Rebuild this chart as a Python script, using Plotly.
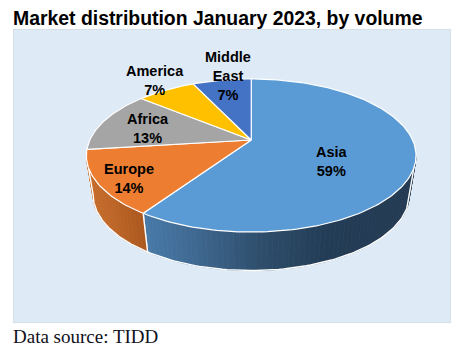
import math
import plotly.graph_objects as go

# --- data (labels show these rounded to whole percent) ---
categories = ["Asia", "Europe", "Africa", "America", "Middle East"]
values = [59.4, 13.6, 13, 7, 7]
label_lines = ["Asia", "Europe", "Africa", "America", "Middle<br>East"]
title_text = "Market distribution January 2023, by volume"
source_text = "Data source: TIDD"

# --- styles ---
top_colors = ["#5B9BD5", "#ED7D31", "#A5A5A5", "#FFC000", "#4472C4"]
panel_color = "#DEEAF6"
label_xy = [(332, 161), (129, 178), (148, 128), (155, 80.5), (228, 76)]

# --- geometry: perspective view of a disc, in page pixels ---
W, H = 468, 352
PANEL = (13, 451.5, 29, 323)
K = 0.2025


def project(theta, apex_x, apex_y, ax, by):
    X, Y = math.sin(theta), -math.cos(theta)
    den = 1 - K * Y
    return apex_x + ax * X / den, apex_y + by * Y / den


def top(theta):
    return project(theta, 251.5, 140, 161.6, 73.4)


def bottom(theta):
    return project(theta, 251.5, 179.5, 155, 72.6)


def mix(c1, c2, t):
    return "rgb(%d,%d,%d)" % tuple(round(a + (b - a) * t) for a, b in zip(c1, c2))


def wall_colour(stops, t):
    for (t0, c0), (t1, c1) in zip(stops, stops[1:]):
        if t <= t1:
            return mix(c0, c1, (t - t0) / (t1 - t0))
    return mix(stops[-1][1], stops[-1][1], 0)


total = sum(values)
cum = [0]
for v in values:
    cum.append(cum[-1] + v)
angle = [c / total * 2 * math.pi for c in cum]

fig = go.Figure()


def add_poly(pts, fill, line, width):
    fig.add_trace(go.Scatter(
        x=[p[0] for p in pts], y=[p[1] for p in pts], mode="lines", fill="toself",
        fillcolor=fill, line=dict(color=line, width=width),
        hoverinfo="skip", showlegend=False))


def add_wall(a0, a1, stops, n):
    for i in range(n):
        s0 = a0 + (a1 - a0) * i / n
        s1 = a0 + (a1 - a0) * (i + 1) / n
        xm = 0.5 * (top(s0)[0] + top(s1)[0])
        col = wall_colour(stops, xm)
        add_poly([top(s0), top(s1), bottom(s1), bottom(s0), top(s0)], col, col, 0.8)
    steps = [a0 + (a1 - a0) * i / 80 for i in range(81)]
    outline = [top(steps[0])] + [bottom(s) for s in steps] + [top(steps[-1])]
    fig.add_trace(go.Scatter(
        x=[p[0] for p in outline], y=[p[1] for p in outline], mode="lines",
        line=dict(color="white", width=1.4), hoverinfo="skip", showlegend=False))


# Side walls: Asia from its rightmost rim point to its end, Europe from there to the left rim
asia_stops = [(100, (72, 122, 168)), (143, (72, 122, 168)), (200, (62, 102, 142)),
              (260, (46, 78, 108)), (330, (35, 60, 85)), (420, (35, 58, 82))]
europe_stops = [(80, (200, 110, 45)), (110, (190, 102, 40)), (145, (170, 86, 30))]
rightmost = math.pi / 2 + math.asin(K)
leftmost = 3 * math.pi / 2 - math.asin(K)
add_wall(rightmost, angle[1], asia_stops, 70)
add_wall(angle[1], leftmost, europe_stops, 24)

# Top faces
for i in range(len(values)):
    n = max(12, int(values[i] * 3))
    rim = [top(angle[i] + (angle[i + 1] - angle[i]) * j / n) for j in range(n + 1)]
    apex = (251.5, 140)
    add_poly([apex] + rim + [apex], top_colors[i], "white", 1.2)

# Slice labels
for i, (x, y) in enumerate(label_xy):
    fig.add_annotation(
        x=x, y=y, xref="x", yref="y", showarrow=False, align="center",
        text=f"{label_lines[i]}<br>{round(values[i])}%",
        font=dict(family="Liberation Sans", size=14.5, color="black", weight=700))

fig.add_annotation(
    text=source_text, xref="paper", yref="paper", x=0, y=-13.5 / (PANEL[3] - PANEL[2]),
    xanchor="left", yanchor="middle", showarrow=False, xshift=-2,
    font=dict(family="Liberation Serif", size=19, color="#101020"))

fig.update_layout(
    width=W, height=H, autosize=False,
    margin=dict(l=PANEL[0], r=W - PANEL[1], t=PANEL[2], b=H - PANEL[3]),
    paper_bgcolor="white", plot_bgcolor=panel_color,
    xaxis=dict(range=[PANEL[0], PANEL[1]], visible=False, fixedrange=True),
    yaxis=dict(range=[PANEL[3], PANEL[2]], visible=False, fixedrange=True),
    title=dict(text=title_text, xref="container", yref="container",
               x=13 / W, xanchor="left", y=1 - 18 / H, yanchor="middle",
               font=dict(family="Liberation Sans", size=19.4, color="black", weight=700)),
    shapes=[dict(type="rect", xref="x", yref="y", x0=PANEL[0], x1=PANEL[1], y0=PANEL[2], y1=PANEL[3],
                 line=dict(color="#D0D3D8", width=1), fillcolor="rgba(0,0,0,0)", layer="below")],
)
fig.write_html("out.html", config={"displayModeBar": False},
               post_script="document.body.style.margin='0';document.documentElement.style.overflow='hidden';")
